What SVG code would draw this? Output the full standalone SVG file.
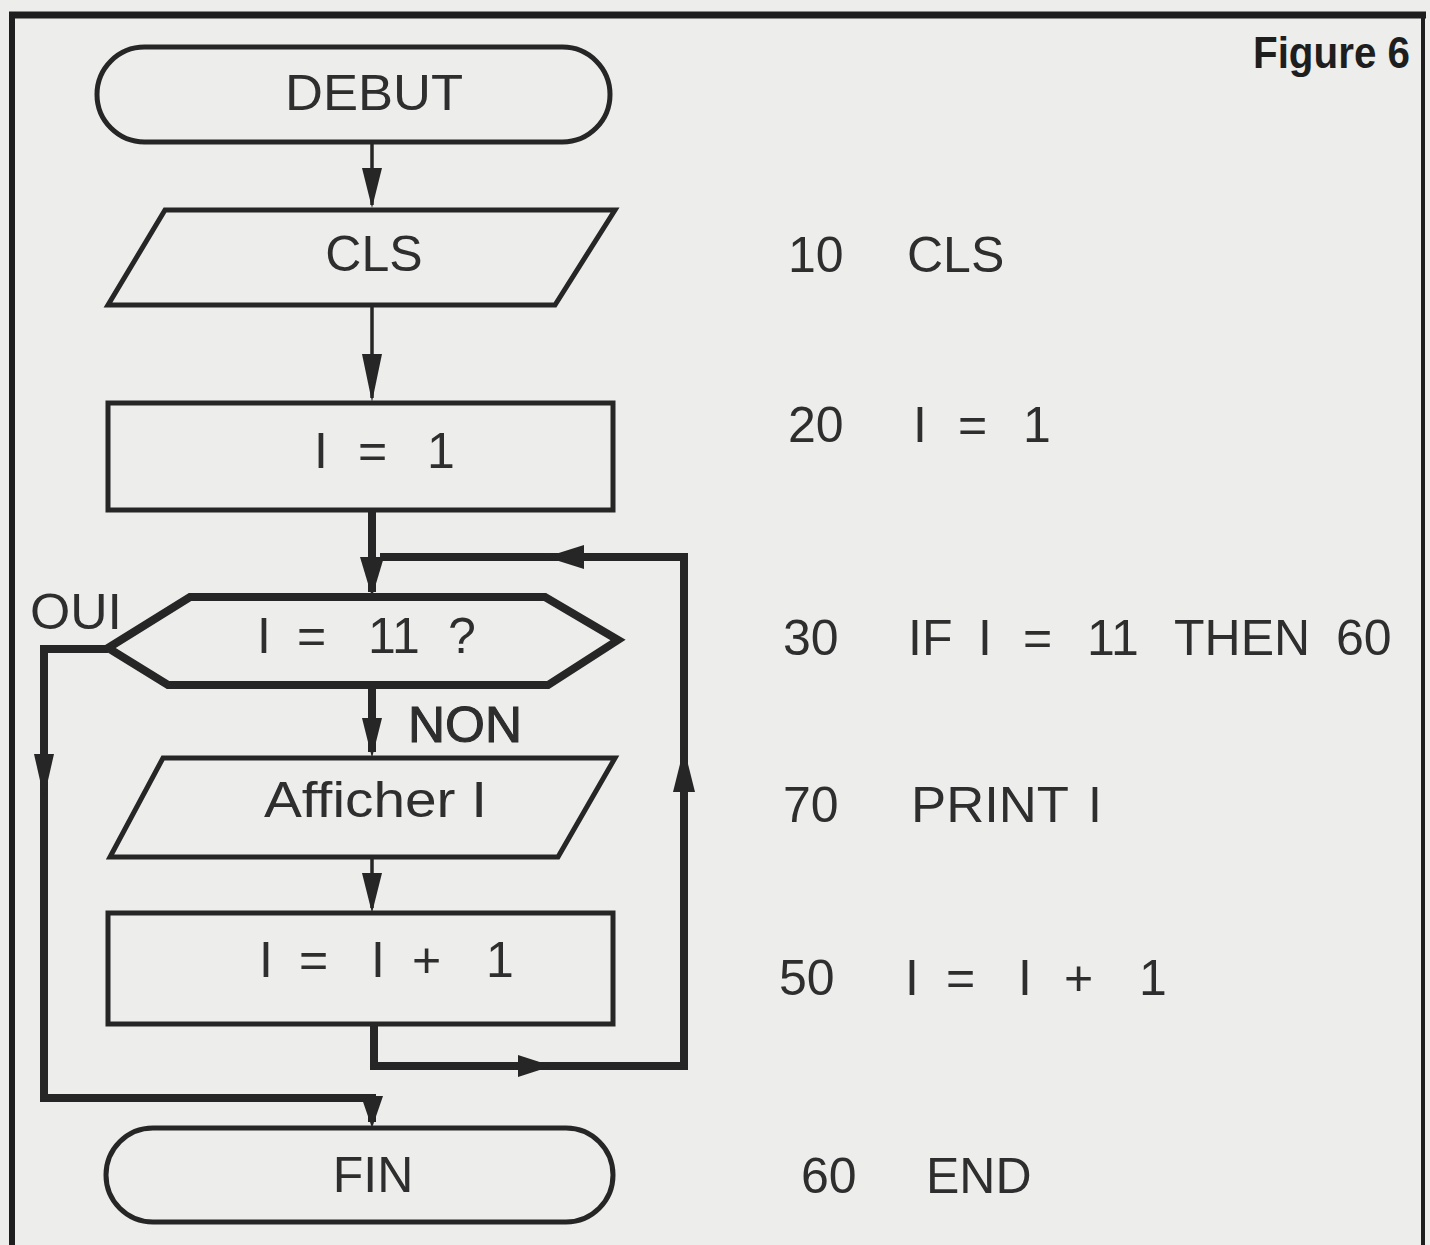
<svg xmlns="http://www.w3.org/2000/svg" width="1430" height="1245" viewBox="0 0 1430 1245">
<style>
.bg{fill:#ededeb}
.node{fill:none;stroke:#262626;stroke-width:5;stroke-linejoin:miter}
.dec{fill:none;stroke:#262626;stroke-width:8;stroke-linejoin:miter}
.thin{fill:none;stroke:#262626;stroke-width:3.5}
.thick{fill:none;stroke:#262626;stroke-width:8;stroke-linejoin:miter}
.ah{fill:#262626}
.t{font-family:"Liberation Sans",Arial,Helvetica,sans-serif;font-size:50px;fill:#2e2e2e}
.c{text-anchor:middle}
.fig{font-family:"Liberation Sans",Arial,sans-serif;font-size:44px;font-weight:bold;fill:#1e1e1e}
.frame{fill:none;stroke:#1e1e1e}
</style>
<defs>
<path id="ahd" d="M-10,-40 L10,-40 L0,0 Z"/>
</defs>
<rect class="bg" x="0" y="0" width="1430" height="1245"/>
<g id="frame">
<line class="frame" x1="9" y1="15" x2="1426" y2="15" stroke-width="7"/>
<line class="frame" x1="12" y1="12" x2="12" y2="1245" stroke-width="6"/>
<line class="frame" x1="1423" y1="12" x2="1423" y2="1245" stroke-width="4"/>
</g>
<text class="fig" x="1253" y="68" textLength="157" lengthAdjust="spacingAndGlyphs">Figure 6</text>
<g id="connectors">
<line class="thin" x1="372" y1="142" x2="372" y2="205"/>
<use href="#ahd" class="ah" transform="translate(372,208)"/>
<line class="thin" x1="372" y1="305" x2="372" y2="398"/>
<use href="#ahd" class="ah" transform="translate(372,402) scale(1,1.2)"/>
<line class="thick" x1="372" y1="510" x2="372" y2="592"/>
<use href="#ahd" class="ah" transform="translate(372,597) scale(1.2,1)"/>
<polyline class="thick" points="380,557 684,557 684,1066 374,1066 374,1025"/>
<use href="#ahd" class="ah" transform="translate(546,557) rotate(90) scale(1.2,0.95)"/>
<use href="#ahd" class="ah" transform="translate(552,1066) rotate(-90) scale(1.1,0.85)"/>
<use href="#ahd" class="ah" transform="translate(684,748) rotate(180) scale(1.1,1.1)"/>
<line class="thick" x1="372" y1="685" x2="372" y2="752"/>
<use href="#ahd" class="ah" transform="translate(372,758)"/>
<polyline class="thick" points="108,649 44,649 44,1098 372,1098 372,1122"/>
<use href="#ahd" class="ah" transform="translate(44,798) scale(1,1.1)"/>
<use href="#ahd" class="ah" transform="translate(372,1128) scale(1.1,0.8)"/>
<line class="thin" x1="372" y1="858" x2="372" y2="908"/>
<use href="#ahd" class="ah" transform="translate(372,913)"/>
<text class="t" x="30" y="629" textLength="92" lengthAdjust="spacingAndGlyphs" font-size="46">OUI</text>
<text class="t" x="408" y="742" textLength="114" lengthAdjust="spacingAndGlyphs" stroke="#2a2a2a" stroke-width="1">NON</text>
</g>
<g id="debut">
<rect class="node" x="97" y="47" width="513" height="95" rx="47.5" ry="47.5"/>
<text class="t" x="285" y="110" font-size="52" textLength="178" lengthAdjust="spacingAndGlyphs">DEBUT</text>
</g>
<g id="cls">
<polygon class="node" points="165,210 615,210 555,305 108,305"/>
<text class="t c" x="374" y="271" font-size="52">CLS</text>
</g>
<g id="init">
<rect class="node" x="108" y="403" width="505" height="107"/>
<text class="t" y="468" font-size="52"><tspan x="314">I</tspan><tspan x="358">=</tspan><tspan x="427">1</tspan></text>
</g>
<g id="decision">
<polygon class="dec" points="108,648 190,597 545,597 618,640 548,685 168,685"/>
<text class="t" y="653" font-size="52"><tspan x="257">I</tspan><tspan x="297">=</tspan><tspan x="368">11</tspan><tspan x="448">?</tspan></text>
</g>
<g id="afficher">
<polygon class="node" points="163,758 615,758 558,857 110,857"/>
<text class="t" x="264" y="817" font-size="52" textLength="223" lengthAdjust="spacingAndGlyphs">Afficher I</text>
</g>
<g id="incr">
<rect class="node" x="108" y="913" width="505" height="111"/>
<text class="t" y="977" font-size="52"><tspan x="259">I</tspan><tspan x="299">=</tspan><tspan x="371">I</tspan><tspan x="412">+</tspan><tspan x="486">1</tspan></text>
</g>
<g id="fin">
<rect class="node" x="106" y="1128" width="507" height="94" rx="47" ry="47"/>
<text class="t c" x="373" y="1192" font-size="52">FIN</text>
</g>
<g id="code">
<text class="t" x="788" y="272">10</text>
<text class="t" x="907" y="272">CLS</text>
<text class="t" x="788" y="442">20</text>
<text class="t" y="442"><tspan x="913">I</tspan><tspan x="958">=</tspan><tspan x="1023">1</tspan></text>
<text class="t" x="783" y="655">30</text>
<text class="t" y="655"><tspan x="908">IF</tspan><tspan x="978">I</tspan><tspan x="1023">=</tspan><tspan x="1087">11</tspan><tspan x="1174">THEN</tspan><tspan x="1336">60</tspan></text>
<text class="t" x="783" y="822">70</text>
<text class="t" x="911" y="822" textLength="158" lengthAdjust="spacingAndGlyphs">PRINT</text>
<text class="t" x="1088" y="822">I</text>
<text class="t" x="779" y="995">50</text>
<text class="t" y="995"><tspan x="905">I</tspan><tspan x="946">=</tspan><tspan x="1018">I</tspan><tspan x="1064">+</tspan><tspan x="1139">1</tspan></text>
<text class="t" x="801" y="1193">60</text>
<text class="t" x="926" y="1193">END</text>
</g>
</svg>
